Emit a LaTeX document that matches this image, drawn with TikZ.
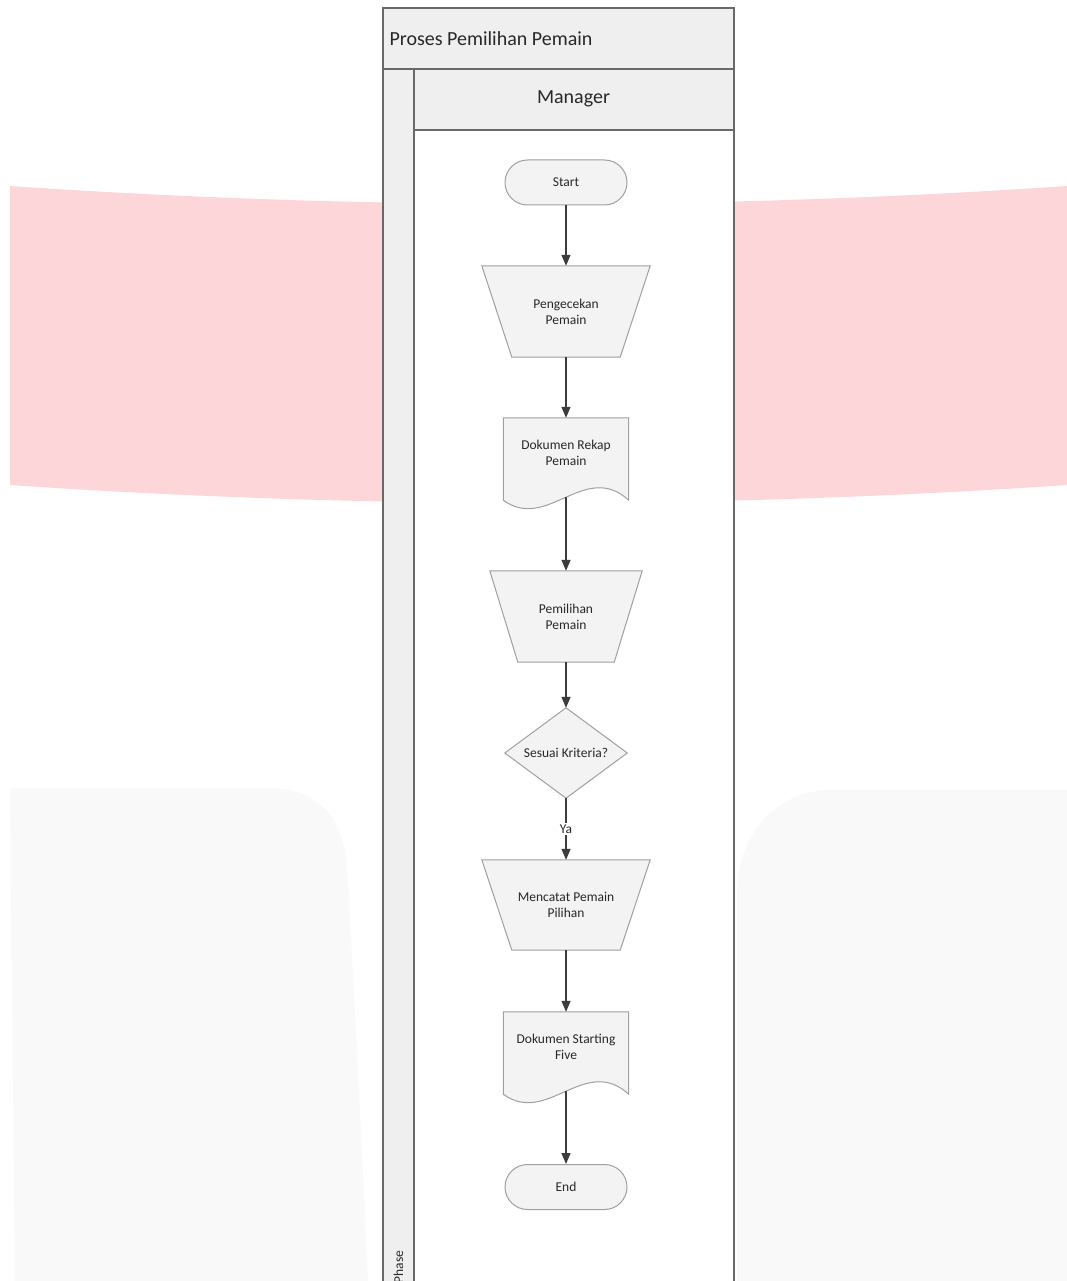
\documentclass[tikz,border=0pt]{standalone}
\usepackage{fontspec}
\setmainfont{Carlito}
\usetikzlibrary{arrows.meta,calc,backgrounds}

\definecolor{bandpink}{RGB}{253,214,217}
\definecolor{ghost}{RGB}{249,249,249}
\definecolor{poolline}{RGB}{105,105,105}
\definecolor{headfill}{RGB}{239,239,239}
\definecolor{shapefill}{RGB}{243,243,243}
\definecolor{shapeline}{RGB}{160,160,160}
\definecolor{ink}{RGB}{40,40,40}
\definecolor{flowline}{RGB}{60,60,60}

\begin{document}
\begin{tikzpicture}[x=1pt, y=-1pt,
  lbl/.style={font=\fontsize{13.5}{16}\selectfont, text=ink, align=center},
  head/.style={font=\fontsize{20}{24}\selectfont, text=ink},
  term/.style={lbl, draw=shapeline, fill=shapefill, line width=1pt,
    rounded corners=22.5pt, minimum width=122pt, minimum height=45pt},
  spot/.style={lbl, inner sep=0pt},
  outline/.style={draw=shapeline, fill=shapefill, line width=1pt},
  flow/.style={draw=flowline, line width=1.3pt, -{Triangle[length=11pt,width=9pt]}},
  lanerule/.style={draw=poolline, line width=1.5pt}]

\useasboundingbox (0,0) rectangle (1067,1281);

% pool and lane captions
\node[head, anchor=west] (pooltitle) at (386,38.5) {Proses Pemilihan Pemain};
\node[head] (lanetitle) at (573.5,98.5) {Manager};
\node[lbl, rotate=90, anchor=east] (phase) at (398.5,1247) {Phase};

% process steps
\node[term] (start) at (566,182.5) {Start};
\node[spot, minimum width=168pt, minimum height=91pt] (check) at (566,311.5) {Pengecekan\\Pemain};
\node[spot, minimum width=125pt, minimum height=70pt] (recap) at (566,453) {Dokumen Rekap\\Pemain};
\node[spot, minimum width=152pt, minimum height=91pt] (pick) at (566,616.5) {Pemilihan\\Pemain};
\node[spot, minimum width=122pt, minimum height=90pt] (fit) at (566,753) {Sesuai Kriteria?};
\node[spot, minimum width=168pt, minimum height=90pt] (note) at (566,905) {Mencatat Pemain\\Pilihan};
\node[spot, minimum width=125pt, minimum height=70pt] (five) at (566,1047) {Dokumen Starting\\Five};
\node[term] (end) at (566,1187) {End};

% connectors (document exits start on the wavy lower edge)
\draw[flow] (start) -- (check);
\draw[flow] (check) -- (recap);
\draw[flow, shorten <=9pt] (recap) -- (pick);
\draw[flow] (pick) -- (fit);
\draw[flow] (fit) -- node[lbl, fill=white, inner sep=1.5pt] (ya) {Ya} (note);
\draw[flow] (note) -- (five);
\draw[flow, shorten <=9pt] (five) -- (end);

\begin{scope}[on background layer]
  % backdrop band and panels
  \fill[bandpink] (10,186) .. controls (362,210) and (714,210) .. (1067,186)
    -- (1067,485) .. controls (714,509) and (362,509) .. (10,485) -- cycle;
  \fill[ghost] (10,788) -- (267,788) .. controls (322,788) and (345,822) .. (347,870)
    .. controls (355,1000) and (362,1150) .. (368,1281) -- (15,1281) -- cycle;
  \fill[ghost] (1067,790) -- (830,790) .. controls (780,790) and (740,830) .. (737,887)
    -- (737,1281) -- (1067,1281) -- cycle;

  % swimlane pool
  \fill[white] (383,8) rectangle (734,1300);
  \fill[headfill] (383,8) rectangle (734,69);
  \fill[headfill] (383,69) rectangle (414,1300);
  \fill[headfill] (414,69) rectangle (734,130);
  \draw[lanerule] (383,1300) -- (383,8) -- (734,8) -- (734,1300);
  \draw[lanerule] (383,69) -- (734,69);
  \draw[lanerule] (414,69) -- (414,1300);
  \draw[lanerule] (414,130) -- (734,130);

  % manual operation outlines
  \path[outline] (check.north west) -- (check.north east)
    -- ($(check.south east)+(-30,0)$) -- ($(check.south west)+(30,0)$) -- cycle;
  \path[outline] (pick.north west) -- (pick.north east)
    -- ($(pick.south east)+(-28,0)$) -- ($(pick.south west)+(28,0)$) -- cycle;
  \path[outline] (note.north west) -- (note.north east)
    -- ($(note.south east)+(-30,0)$) -- ($(note.south west)+(30,0)$) -- cycle;

  % document outlines
  \path[outline] (recap.north west) -- (recap.north east) -- ($(recap.south east)+(0,12)$)
    .. controls ($(recap.south east)+(-44,-28)$) and ($(recap.south west)+(44,44)$)
    .. ($(recap.south west)+(0,12)$) -- cycle;
  \path[outline] (five.north west) -- (five.north east) -- ($(five.south east)+(0,12)$)
    .. controls ($(five.south east)+(-44,-28)$) and ($(five.south west)+(44,44)$)
    .. ($(five.south west)+(0,12)$) -- cycle;

  % decision outline
  \path[outline] (fit.north) -- (fit.east) -- (fit.south) -- (fit.west) -- cycle;
\end{scope}
\end{tikzpicture}
\end{document}
